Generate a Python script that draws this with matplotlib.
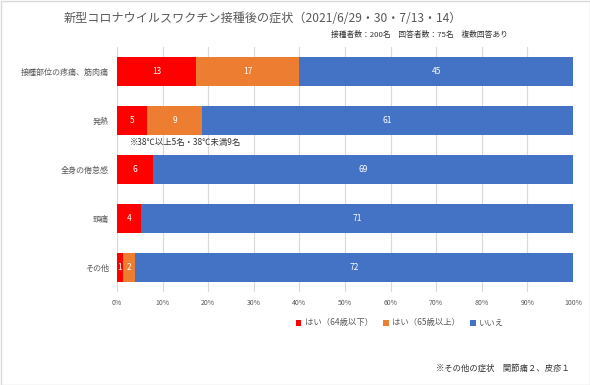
import matplotlib
matplotlib.use("Agg")
import matplotlib.pyplot as plt
import numpy as np

plt.rcParams['font.family'] = ['Noto Sans CJK JP', 'DejaVu Sans']

categories = ["接種部位の疼痛、筋肉痛", "発熱", "全身の倦怠感", "頭痛", "その他"]
yes_young = [13, 5, 6, 4, 1]
yes_old = [17, 9, 0, 0, 2]
no = [45, 61, 69, 71, 72]
series_names = ["はい（64歳以下）", "はい（65歳以上）", "いいえ"]
colors = ["#FF0000", "#ED7D31", "#4472C4"]
xticks = [0, 10, 20, 30, 40, 50, 60, 70, 80, 90, 100]

W, H = 590, 385
fig = plt.figure(figsize=(W/100, H/100), dpi=100)
ax = fig.add_axes([117/W, 1-292/H, (573-117)/W, (292-47)/H])

data = np.array([yes_young, yes_old, no], dtype=float)
totals = data.sum(axis=0)
pct = data / totals * 100
y = np.arange(len(categories))
left = np.zeros(len(categories))
for i in range(3):
    ax.barh(y, pct[i], left=left, height=0.59, color=colors[i], label=series_names[i], zorder=3)
    for j in range(len(categories)):
        if data[i, j] > 0:
            ax.text(left[j] + pct[i, j]/2, y[j], f"{int(data[i, j])}", ha='center', va='center',
                    color='white', fontsize=6, zorder=4)
    left += pct[i]

ax.set_ylim(4.5, -0.5)
ax.set_xlim(0, 100)
ax.set_yticks(y)
ax.set_yticklabels(categories, fontsize=5.8, color='#595959')
ax.set_xticks(xticks)
ax.set_xticklabels([f"{t}%" for t in xticks], fontsize=5, color='#595959')
ax.tick_params(axis='both', length=0, pad=6)
ax.tick_params(axis='x', pad=5)
ax.grid(axis='x', color='#D9D9D9', linewidth=0.8, zorder=0)
for s in ax.spines.values():
    s.set_visible(False)

fig.text(263/W, 1-18/H, "新型コロナウイルスワクチン接種後の症状（2021/6/29・30・7/13・14）",
         ha='center', va='center', fontsize=8.7, color='#595959')
fig.text(508/W, 1-35/H, "接種者数：200名　回答者数：75名　複数回答あり",
         ha='right', va='center', fontsize=5.6, color='#333333')
fig.text(130/W, 1-142/H, "※38℃以上5名・38℃未満9名", ha='left', va='center', fontsize=6, color='#333333')
fig.text(570/W, 1-368/H, "※その他の症状　関節痛２、皮疹１", ha='right', va='center', fontsize=6, color='#333333')

leg = fig.legend(loc='center', bbox_to_anchor=(400/W, 1-323/H), ncol=3, frameon=False,
                 fontsize=6, handlelength=0.7, handleheight=0.7, handletextpad=0.4, columnspacing=1.2)
for t in leg.get_texts():
    t.set_color('#595959')

fig.patches.append(plt.Rectangle((0.5/W, 0.5/H), 1-1/W, 1-1/H, transform=fig.transFigure,
                                 fill=False, edgecolor='#D9D9D9', linewidth=1))
fig.savefig("out.png", dpi=100)
